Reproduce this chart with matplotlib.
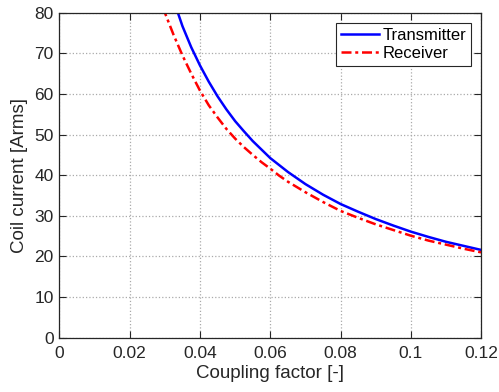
import matplotlib
matplotlib.use('Agg')
import matplotlib.pyplot as plt

# coupling factor vs coil current
k_tx = [0.033, 0.0337, 0.035, 0.0375, 0.04, 0.0425, 0.045, 0.0475, 0.05, 0.0525, 0.055,
        0.0575, 0.06, 0.0625, 0.065, 0.07, 0.075, 0.08, 0.085, 0.09, 0.095, 0.1,
        0.105, 0.11, 0.115, 0.12]
i_tx = [81.5, 80.0, 76.7, 71.5, 67.0, 63.0, 59.4, 56.2, 53.3, 50.8, 48.4,
        46.3, 44.2, 42.5, 40.8, 37.8, 35.2, 32.9, 31.0, 29.2, 27.6, 26.1,
        24.8, 23.6, 22.6, 21.6]

k_rx = [0.0295, 0.03, 0.0325, 0.035, 0.0375, 0.04, 0.0425, 0.045, 0.0475, 0.05, 0.0525,
        0.055, 0.0575, 0.06, 0.0625, 0.065, 0.07, 0.075, 0.08, 0.085, 0.09, 0.095,
        0.1, 0.105, 0.11, 0.115, 0.12]
i_rx = [81.5, 80.0, 74.5, 69.5, 65.0, 60.8, 57.2, 54.2, 51.4, 49.0, 46.9,
        45.0, 43.2, 41.6, 39.9, 38.4, 35.8, 33.4, 31.2, 29.5, 27.9, 26.5,
        25.1, 23.9, 22.9, 21.9, 21.0]

x_ticks = [0, 0.02, 0.04, 0.06, 0.08, 0.1, 0.12]
x_tick_labels = ['0', '0.02', '0.04', '0.06', '0.08', '0.1', '0.12']
y_ticks = [0, 10, 20, 30, 40, 50, 60, 70, 80]

plt.rcParams['font.family'] = ['Liberation Sans', 'DejaVu Sans']

fig = plt.figure(figsize=(4.99, 3.92), dpi=100)
ax = fig.add_axes([0.119, 0.1385, 0.8455, 0.8291])

ax.plot(k_tx, i_tx, color='#0000ff', lw=1.8, label='Transmitter')
ax.plot(k_rx, i_rx, color='#ff0000', lw=1.8, ls=(0, (4, 1.5, 1.2, 1.5)), label='Receiver')

ax.set_xlim(0, 0.12)
ax.set_ylim(0, 80)
ax.set_xticks(x_ticks)
ax.set_xticklabels(x_tick_labels)
ax.set_yticks(y_ticks)

ax.grid(True, ls=':', color='#aaaaaa', lw=0.9)
ax.tick_params(direction='in', top=True, right=True, labelsize=12.5,
               colors='#262626', length=5, width=0.8)
ax.tick_params(axis='x', pad=6)
ax.tick_params(axis='y', pad=4)
for s in ax.spines.values():
    s.set_color('#262626')
    s.set_linewidth(0.9)

ax.set_xlabel('Coupling factor [-]', fontsize=13.5, color='#262626', labelpad=3)
ax.set_ylabel('Coil current [Arms]', fontsize=13.5, color='#262626', labelpad=5)

leg = ax.legend(loc='upper right', fontsize=12, fancybox=False, framealpha=1,
                edgecolor='#262626', handlelength=2.3, handletextpad=0.2,
                borderpad=0.3, labelspacing=0.2, borderaxespad=0.6)
leg.get_frame().set_linewidth(0.8)

fig.savefig('out.png', dpi=100)
